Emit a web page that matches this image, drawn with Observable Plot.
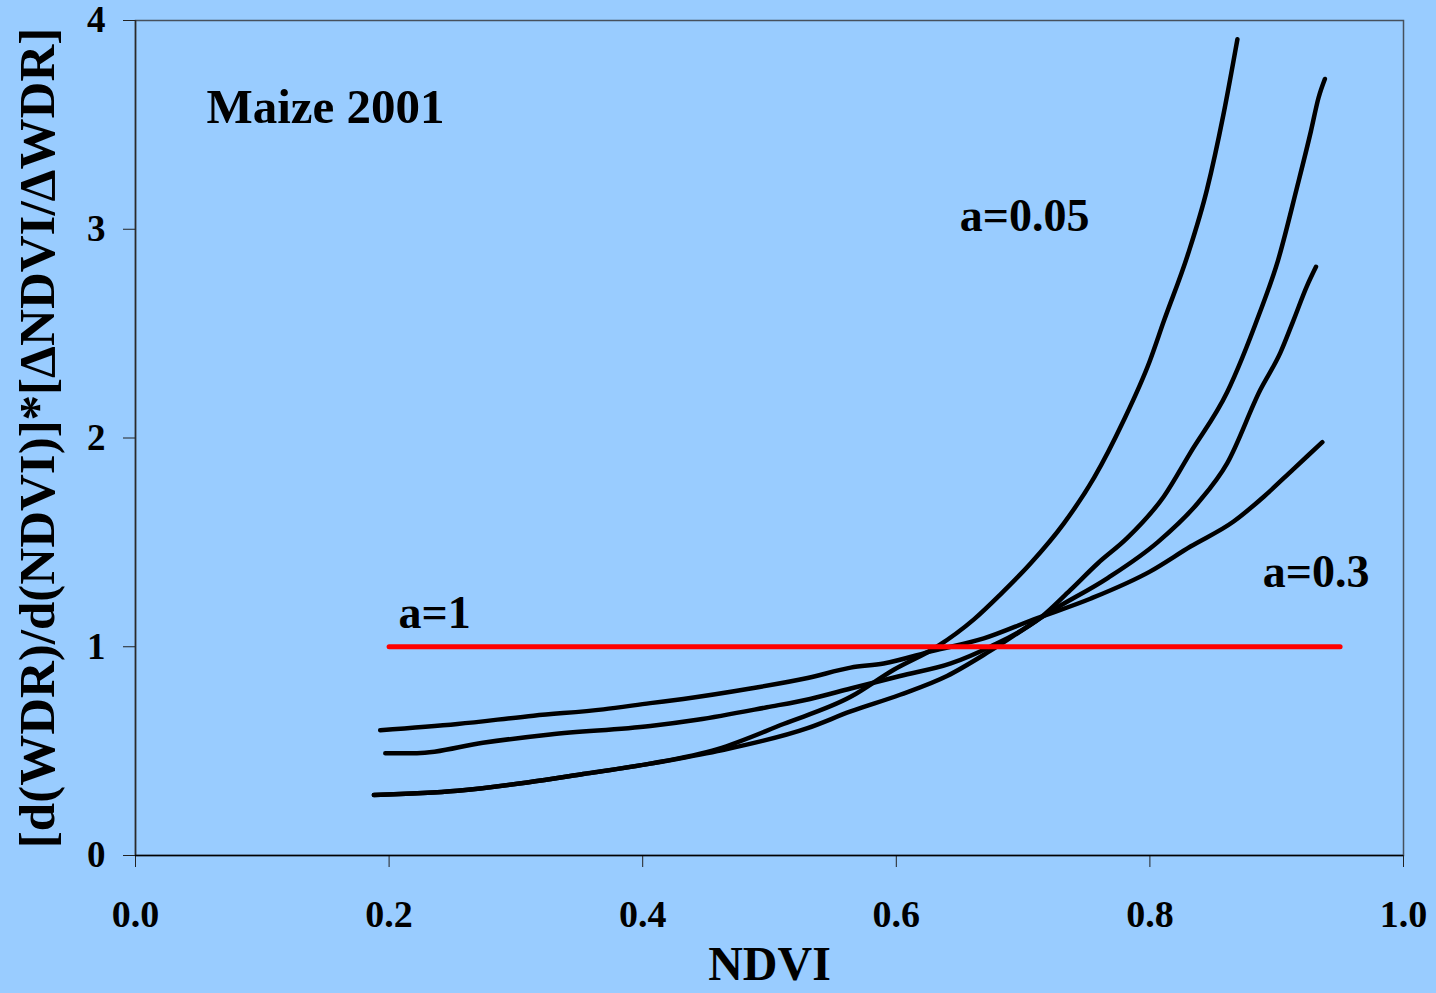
<!DOCTYPE html>
<html>
<head>
<meta charset="utf-8">
<script src="https://cdn.jsdelivr.net/npm/d3@7"></script>
<script src="https://cdn.jsdelivr.net/npm/@observablehq/plot@0.6"></script>
<style>
  html, body { margin: 0; padding: 0; background: #99CCFF; }
  #chart svg { display: block; }
</style>
</head>
<body>
<div id="chart"></div>
<script>
// Sensitivity ratio vs NDVI, maize 2001, one curve per coefficient a.
const a005Ndvi  = [0.188, 0.254, 0.309, 0.353, 0.406, 0.459, 0.511, 0.564, 0.598, 0.632, 0.661, 0.682, 0.706, 0.732, 0.756, 0.779, 0.800, 0.811, 0.830, 0.845, 0.858, 0.869];
const a005Value = [0.29, 0.31, 0.35, 0.39, 0.44, 0.51, 0.63, 0.76, 0.89, 1.00, 1.13, 1.25, 1.40, 1.59, 1.81, 2.08, 2.37, 2.56, 2.88, 3.19, 3.55, 3.91];

const aMidHighNdvi  = [0.197, 0.222, 0.274, 0.327, 0.406, 0.443, 0.498, 0.532, 0.564, 0.603, 0.643, 0.674, 0.714, 0.737, 0.759, 0.782, 0.811, 0.832, 0.861, 0.886, 0.901, 0.916, 0.927, 0.933, 0.938];
const aMidHighValue = [0.49, 0.49, 0.54, 0.58, 0.62, 0.65, 0.71, 0.75, 0.80, 0.86, 0.92, 1.00, 1.14, 1.27, 1.40, 1.52, 1.72, 1.93, 2.22, 2.59, 2.85, 3.20, 3.47, 3.63, 3.72];

const aMidLowNdvi  = [0.188, 0.254, 0.309, 0.353, 0.406, 0.459, 0.530, 0.564, 0.603, 0.640, 0.674, 0.722, 0.767, 0.806, 0.838, 0.861, 0.887, 0.903, 0.913, 0.924, 0.931];
const aMidLowValue = [0.29, 0.31, 0.35, 0.39, 0.44, 0.50, 0.61, 0.69, 0.77, 0.86, 0.98, 1.17, 1.33, 1.50, 1.69, 1.88, 2.23, 2.41, 2.56, 2.73, 2.82];

const a03Ndvi  = [0.193, 0.254, 0.314, 0.369, 0.406, 0.432, 0.485, 0.530, 0.564, 0.590, 0.629, 0.669, 0.708, 0.753, 0.800, 0.832, 0.866, 0.890, 0.913, 0.936];
const a03Value = [0.60, 0.63, 0.67, 0.70, 0.73, 0.75, 0.80, 0.85, 0.90, 0.92, 0.98, 1.04, 1.13, 1.23, 1.36, 1.48, 1.60, 1.72, 1.85, 1.98];

// a = 1 reference line
const a1Ndvi  = [0.2, 0.95];
const a1Value = [1, 1];

const xTicks = [0, 0.2, 0.4, 0.6, 0.8, 1.0];
const yTicks = [0, 1, 2, 3, 4];

const curveLabels = ["a=0.05", "a=0.3", "a=1"];
const curveLabelNdvi = [0.650, 0.889, 0.2074];
const curveLabelValue = [2.994, 1.284, 1.092];

const panelTitle = "Maize 2001";
const xTitle = "NDVI";
const yTitle = "[d(WDR)/d(NDVI)]*[\u0394NDVI/\u0394WDR]";

// Long-format table for the black curves
const series = [
  {id: "a005", ndvi: a005Ndvi, value: a005Value},
  {id: "aMidHigh", ndvi: aMidHighNdvi, value: aMidHighValue},
  {id: "aMidLow", ndvi: aMidLowNdvi, value: aMidLowValue},
  {id: "a03", ndvi: a03Ndvi, value: a03Value}
];
const rows = series.flatMap(s => s.ndvi.map((x, i) => ({curve: s.id, ndvi: x, value: s.value[i]})));
const refRows = a1Ndvi.map((x, i) => ({ndvi: x, value: a1Value[i]}));
const labelRows = curveLabels.map((t, i) => ({text: t, ndvi: curveLabelNdvi[i], value: curveLabelValue[i]}));

const chart = Plot.plot({
  width: 1436,
  height: 993,
  marginLeft: 135,
  marginRight: 33,
  marginTop: 20,
  marginBottom: 138,
  style: {
    background: "#99CCFF",
    fontFamily: "'Liberation Serif', 'Times New Roman', serif",
    fontWeight: "bold",
    color: "black"
  },
  x: {domain: [0, 1]},
  y: {domain: [0, 4]},
  marks: [
    Plot.frame({stroke: "#46505c", strokeWidth: 1.5}),
    Plot.axisY({ticks: yTicks, tickSize: 12, tickPadding: 18, fontSize: 37, tickFormat: d => String(d), label: null, stroke: "#222"}),
    Plot.axisX({ticks: xTicks, tickSize: 12, tickPadding: 33, fontSize: 38, tickFormat: d => d.toFixed(1), label: null, stroke: "#222"}),
    Plot.ruleX([0], {stroke: "#2a2a2a", strokeWidth: 1.5}),
    Plot.ruleY([0], {stroke: "black", strokeWidth: 1.5}),
    Plot.line(rows, {x: "ndvi", y: "value", z: "curve", stroke: "black", strokeWidth: 4.5, strokeLinejoin: "round", curve: "monotone-x"}),
    Plot.line(refRows, {x: "ndvi", y: "value", stroke: "#FF0000", strokeWidth: 5}),
    Plot.text(labelRows, {x: "ndvi", y: "value", text: "text", textAnchor: "start", lineAnchor: "bottom", fontSize: 46, fill: "black"}),
    Plot.text([panelTitle], {text: d => d, frameAnchor: "top-left", dx: 71, dy: 102, textAnchor: "start", lineAnchor: "bottom", fontSize: 49, fill: "black"}),
    Plot.text([xTitle], {text: d => d, frameAnchor: "bottom", dy: 124, lineAnchor: "bottom", fontSize: 48, fill: "black"}),
    Plot.text([yTitle], {text: d => d, frameAnchor: "left", dx: -82, rotate: -90, textAnchor: "middle", lineAnchor: "bottom", fontSize: 51, fill: "black"})
  ]
});

document.getElementById("chart").appendChild(chart);
</script>
</body>
</html>
